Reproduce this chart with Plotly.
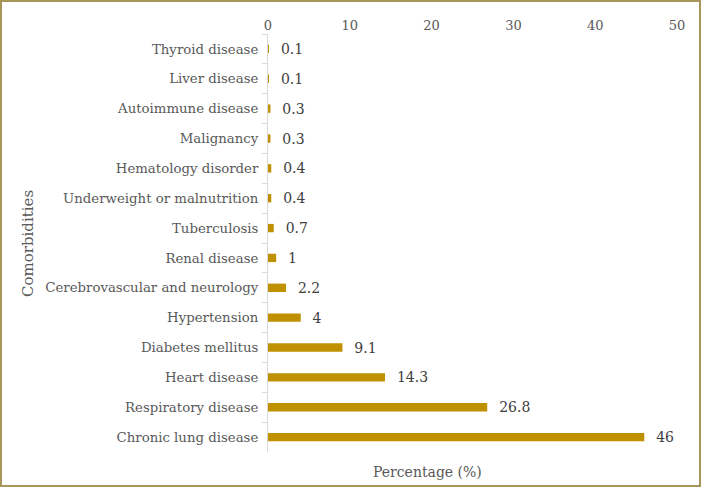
import plotly.graph_objects as go

categories = ["Thyroid disease", "Liver disease", "Autoimmune disease", "Malignancy",
              "Hematology disorder", "Underweight or malnutrition", "Tuberculosis",
              "Renal disease", "Cerebrovascular and neurology", "Hypertension",
              "Diabetes mellitus", "Heart disease", "Respiratory disease", "Chronic lung disease"]
values = [0.1, 0.1, 0.3, 0.3, 0.4, 0.4, 0.7, 1, 2.2, 4, 9.1, 14.3, 26.8, 46]
value_labels = ["0.1", "0.1", "0.3", "0.3", "0.4", "0.4", "0.7", "1", "2.2", "4", "9.1", "14.3", "26.8", "46"]
x_ticks = [0, 10, 20, 30, 40, 50]

FONT = "Georgia, 'DejaVu Serif', 'Liberation Serif', serif"

fig = go.Figure(go.Bar(
    y=categories, x=values, orientation="h",
    marker=dict(color="#BF9000", line=dict(width=0)),
    width=0.28,
    text=["  " + t for t in value_labels], textposition="outside",
    constraintext="none",
    textfont=dict(family=FONT, size=14, color="#404040"),
    cliponaxis=False,
))

fig.update_layout(
    width=701, height=487,
    margin=dict(l=268, r=24, t=34, b=35),
    paper_bgcolor="white", plot_bgcolor="white",
    showlegend=False,
    font=dict(family=FONT, color="#595959"),
    xaxis=dict(side="top", range=[0, 50], tickvals=x_ticks, showgrid=False,
               zeroline=False, showline=False, ticks="", automargin=False,
               tickfont=dict(family=FONT, size=13, color="#595959")),
    yaxis=dict(categoryorder="array", categoryarray=categories, autorange="reversed",
               showline=True, linecolor="#D9D9D9", linewidth=1,
               ticks="outside", tickson="boundaries", ticklen=5, tickcolor="#D9D9D9",
               showgrid=False, zeroline=False, automargin=False, ticklabelstandoff=6,
               tickfont=dict(family=FONT, size=13.3, color="#595959")),
    shapes=[dict(type="rect", xref="paper", yref="paper", x0=-267/409, x1=(409+23)/409,
                 y0=-34/418, y1=(418+33)/418,
                 line=dict(color="#A6965A", width=2), fillcolor="rgba(0,0,0,0)")],
    annotations=[
        dict(text="Percentage (%)", xref="paper", yref="paper",
             x=(427-268)/409, y=-(472-452)/418, showarrow=False,
             font=dict(family=FONT, size=14, color="#595959"), xanchor="center", yanchor="middle"),
        dict(text="Comorbidities", xref="paper", yref="paper",
             x=(28-268)/409, y=(452-243)/418, showarrow=False, textangle=-90,
             font=dict(family=FONT, size=15, color="#595959"), xanchor="center", yanchor="middle"),
    ],
)

fig.write_html("out.html", config={"displayModeBar": False},
               post_script="document.body.style.margin='0';document.body.style.padding='0';")
